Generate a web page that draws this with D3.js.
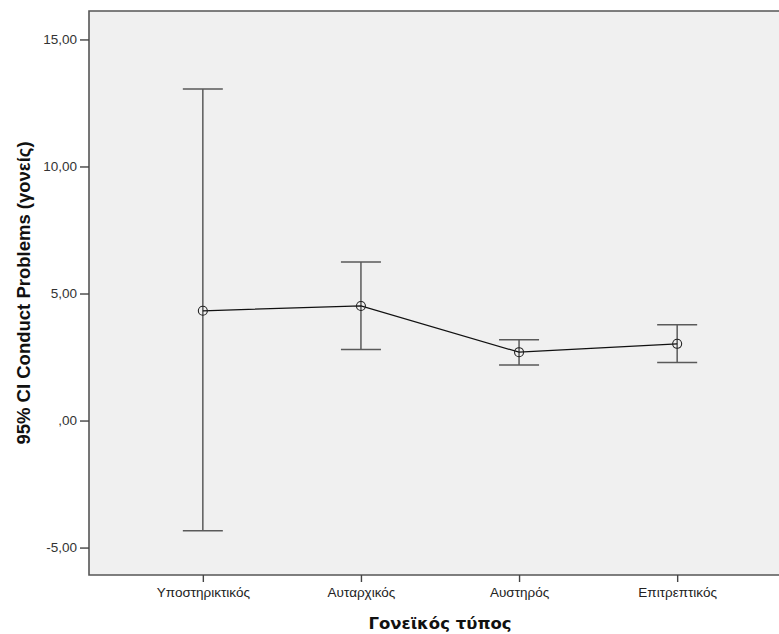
<!DOCTYPE html>
<html><head><meta charset="utf-8">
<script src="https://cdn.jsdelivr.net/npm/d3@7"></script>
<style>body{margin:0;background:#fff}</style>
</head><body>
<svg id="c" width="779" height="634"></svg>
<script>
const categories = ["Υποστηρικτικός","Αυταρχικός","Αυστηρός","Επιτρεπτικός"];
const means = [4.32, 4.51, 2.69, 3.02];
const upper = [13.05, 6.24, 3.18, 3.77];
const lower = [-4.34, 2.80, 2.19, 2.28];
const yTicks = [-5, 0, 5, 10, 15];
const yTitle = "95% CI Conduct Problems (γονείς)";
const xTitle = "Γονεϊκός τύπος";

const data = categories.map((c,i)=>({c, m:means[i], hi:upper[i], lo:lower[i]}));
const svg = d3.select("#c");
const L=89, T=11, R=791, B=575;
const x = d3.scalePoint().domain(categories).range([L,R]).padding(0.72);
const y = d3.scaleLinear().domain([-6.08,16.12]).range([B,T]);
const fmt = v => (v===0? ",00" : d3.format(".2f")(v).replace(".",",").replace("\u2212","-"));

svg.append("rect").attr("x",L).attr("y",T).attr("width",R-L).attr("height",B-T).attr("fill","#f0f0f0");

// error bars
const eb = svg.append("g").attr("stroke","#5a5a5a").attr("stroke-width",1.5);
data.forEach(d=>{
  const cx=x(d.c);
  eb.append("line").attr("x1",cx).attr("x2",cx).attr("y1",y(d.hi)).attr("y2",y(d.lo));
  eb.append("line").attr("x1",cx-20).attr("x2",cx+20).attr("y1",y(d.hi)).attr("y2",y(d.hi));
  eb.append("line").attr("x1",cx-20).attr("x2",cx+20).attr("y1",y(d.lo)).attr("y2",y(d.lo));
});
svg.append("path").datum(data)
  .attr("d", d3.line().x(d=>x(d.c)).y(d=>y(d.m)))
  .attr("fill","none").attr("stroke","#111").attr("stroke-width",1.2);
svg.selectAll("circle.pt").data(data).join("circle")
  .attr("cx",d=>x(d.c)).attr("cy",d=>y(d.m)).attr("r",4.5)
  .attr("fill","none").attr("stroke","#222").attr("stroke-width",1.1);

// frame
svg.append("path").attr("d",`M${R},${T}H${L}V${B}H${R}`).attr("fill","none").attr("stroke","#555").attr("stroke-width",1.6);

// y axis
const ya = svg.append("g").attr("transform",`translate(${L},0)`)
  .call(d3.axisLeft(y).tickValues(yTicks).tickSize(9).tickFormat(fmt));
ya.select(".domain").remove();
ya.selectAll(".tick line").attr("stroke","#444").attr("stroke-width",1.4);
ya.selectAll(".tick text").attr("x",-12).attr("fill","#333")
  .style("font-family","'Liberation Sans',Arial,sans-serif").style("font-size","13.5px");

// x axis
const xa = svg.append("g").attr("transform",`translate(0,${B})`)
  .call(d3.axisBottom(x).tickSize(7));
xa.select(".domain").remove();
xa.selectAll(".tick line").attr("stroke","#444").attr("stroke-width",1.4);
xa.selectAll(".tick text").attr("y",12).attr("fill","#222")
  .style("font-family","'Liberation Sans',Arial,sans-serif").style("font-size","13.5px");

svg.append("text").attr("x",(L+R)/2).attr("y",629).attr("text-anchor","middle")
  .style("font-family","'DejaVu Sans',Verdana,sans-serif").style("font-weight","bold").style("font-size","16.5px")
  .attr("fill","#111").text(xTitle);
svg.append("text").attr("transform",`translate(30,${(T+B)/2}) rotate(-90)`).attr("text-anchor","middle")
  .style("font-family","'Liberation Sans',Arial,sans-serif").style("font-weight","bold").style("font-size","18.5px")
  .attr("fill","#111").text(yTitle);
</script>
</body></html>
